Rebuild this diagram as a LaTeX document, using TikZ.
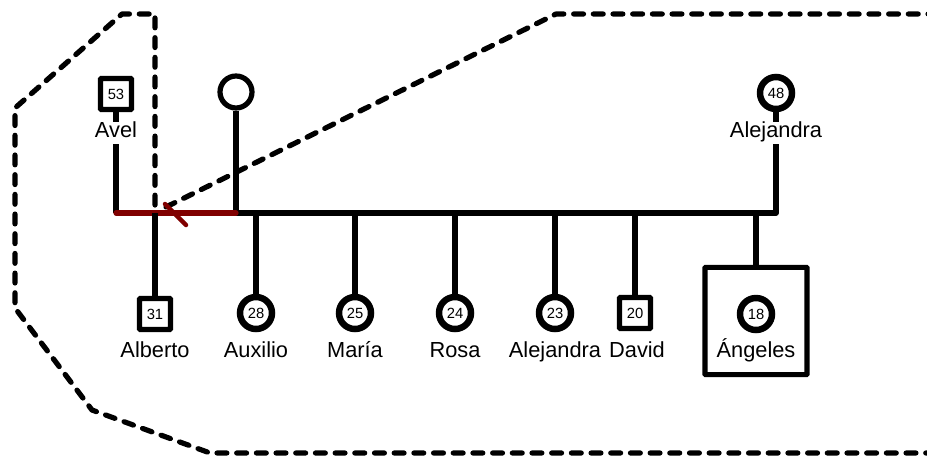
\documentclass[tikz,border=0pt]{standalone}
\usepackage{fontspec}
\setmainfont{Liberation Sans}
\definecolor{parental}{RGB}{128,0,0}
\begin{document}
\begin{tikzpicture}[x=0.025cm, y=-0.025cm,
	male/.style={draw, rectangle, line width=3.7pt, minimum size=0.775cm, inner sep=0pt, rounded corners=0.5pt, font=\fontsize{10.5}{12}\selectfont},
	female/.style={draw, circle, line width=4.6pt, minimum size=0.8cm, inner sep=0pt, font=\fontsize{10.5}{12}\selectfont},
	nombre/.style={inner sep=3pt, anchor=base, text height=0.72em, text depth=0.21em, font=\fontsize{15.5}{18}\selectfont},
	linea/.style={line width=3.7pt, line join=round},
	boundary/.style={line width=3.7pt, dash pattern=on 7pt off 7pt, line cap=round, line join=round}]
		\useasboundingbox (0,0) rectangle (927,455);

		% grupo de convivencia
		\draw[boundary] (155,205) -- (155,14) -- (122,14) -- (15,108) -- (15,308) -- (92,410) -- (210,453) -- (940,453);
		\draw[boundary] (166,207) -- (556,14) -- (940,14);

		% padres
		\node[male] (avel) at (116,94) {53};
		\node[nombre] (avel-n) at (116,137) {Avel};
		\node[female, line width=3.7pt] (pareja) at (236,92) {};
		\node[female] (madre) at (776,93) {48};
		\node[nombre] (madre-n) at (776,137) {Alejandra};

		\coordinate (ja) at (116,213);
		\coordinate (jp) at (236,213);
		\coordinate (jm) at (776,213);

		\draw[linea] (avel) -- (avel-n);
		\draw[linea] (avel-n) -- (ja);
		\draw[linea] (pareja) -- (jp);
		\draw[linea] (madre) -- (madre-n);
		\draw[linea] (madre-n) -- (jm) -- (jp);
		\draw[linea, parental, line cap=round] (ja) -- (jp);

		% separacion
		\coordinate (corte) at (175,214);
		\draw[parental, line width=3.2pt, line cap=round] ([shift={(-10,-10)}]corte) -- ([shift={(11,11)}]corte);

		% hijos
		\node[male] (alberto) at (155,314) {31};
		\node[nombre] (alberto-n) at (155,357) {Alberto};
		\node[female] (auxilio) at (256,313) {28};
		\node[nombre] (auxilio-n) at (256,357) {Auxilio};
		\node[female] (maria) at (355,313) {25};
		\node[nombre] (maria-n) at (355,357) {María};
		\node[female] (rosa) at (455,313) {24};
		\node[nombre] (rosa-n) at (455,357) {Rosa};
		\node[female] (alejandra) at (555,313) {23};
		\node[nombre] (alejandra-n) at (555,357) {Alejandra};
		\node[male] (david) at (635,313) {20};
		\node[nombre] (david-n) at (637,357) {David};
		\node[draw, line width=3.7pt, rounded corners=0.5pt, minimum width=2.55cm, minimum height=2.68cm] (caja) at (756,321) {};
		\node[female] (angeles) at (756,314) {18};
		\node[nombre] (angeles-n) at (756,357) {Ángeles};

		\draw[linea] (155,213) -- (alberto);
		\draw[linea] (256,213) -- (auxilio);
		\draw[linea] (355,213) -- (maria);
		\draw[linea] (455,213) -- (rosa);
		\draw[linea] (555,213) -- (alejandra);
		\draw[linea] (635,213) -- (david);
		\draw[linea] (756,213) -- (caja);
	\end{tikzpicture}
\end{document}
